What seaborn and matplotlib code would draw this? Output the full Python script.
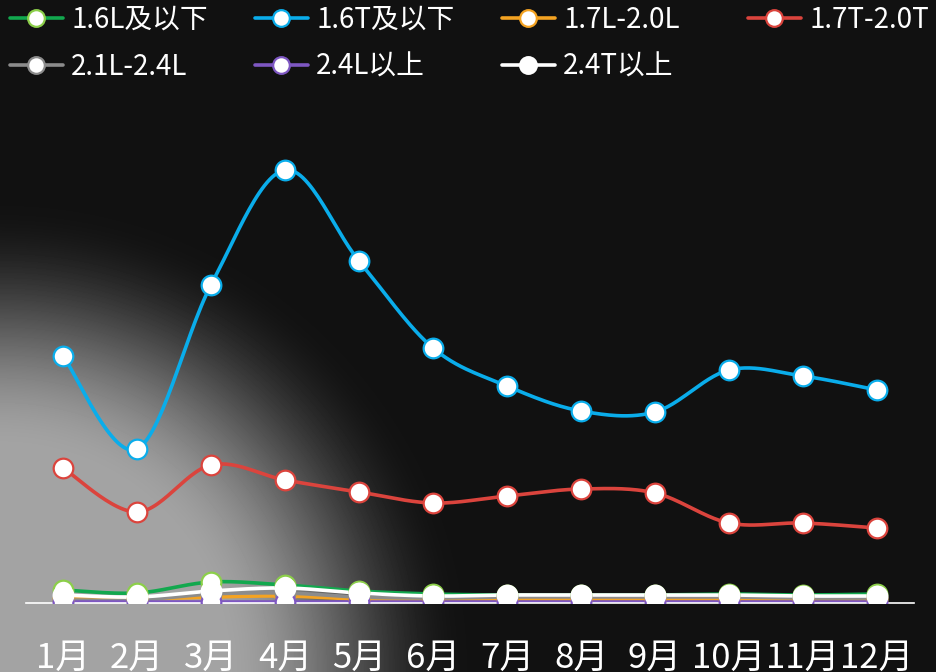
import numpy as np
import pandas as pd
import matplotlib
matplotlib.use('Agg')
import matplotlib.pyplot as plt
import seaborn as sns
from matplotlib.lines import Line2D

""" Data """

months = ['1月', '2月', '3月', '4月', '5月', '6月', '7月', '8月', '9月', '10月', '11月', '12月']
s_16l = [13, 10, 21, 18, 12, 9, 8, 8, 8, 9, 8, 9]
s_16t = [247, 154, 318, 433, 342, 255, 217, 192, 191, 233, 227, 213]
s_17l = [4, 4, 6, 7, 4, 4, 4, 4, 4, 4, 4, 4]
s_17t = [135, 91, 138, 123, 111, 100, 107, 114, 110, 80, 80, 75]
s_21l = [3, 3, 9, 10, 6, 5, 6, 6, 6, 6, 5, 5]
s_24l = [1, 1, 1, 1, 1, 1, 1, 1, 1, 1, 1, 1]
s_24t = [8, 6, 12, 15, 10, 7, 8, 8, 8, 8, 7, 7]

names = ['1.6L及以下', '1.6T及以下', '1.7L-2.0L', '1.7T-2.0T', '2.1L-2.4L', '2.4L以上', '2.4T以上']
values = [s_16l, s_16t, s_17l, s_17t, s_21l, s_24l, s_24t]
line_colors = ['#12A84E', '#0AADEB', '#F4A322', '#DB443D', '#8C8C8C', '#7E57C2', '#FFFFFF']
edge_colors = ['#8CCF4A', '#0AADEB', '#F4A322', '#DB443D', '#8C8C8C', '#7E57C2', '#FFFFFF']

W, H = 937, 672

sns.set_theme(style='white')
plt.rcParams['font.family'] = ['Noto Sans CJK SC', 'DejaVu Sans']


def smooth(y, n=30):
    # Excel-like smoothing (Catmull-Rom as cubic bezier segments)
    y = np.asarray(y, float)
    x = np.arange(len(y), dtype=float)
    pts = np.column_stack([x, y])
    ext = np.vstack([pts[0], pts, pts[-1]])
    out = []
    t = np.linspace(0, 1, n)[:, None]
    for i in range(len(pts) - 1):
        p0, p3 = ext[i + 1], ext[i + 2]
        c1 = p0 + (ext[i + 2] - ext[i]) / 6
        c2 = p3 - (ext[i + 3] - ext[i + 1]) / 6
        seg = (1 - t) ** 3 * p0 + 3 * (1 - t) ** 2 * t * c1 + 3 * (1 - t) * t ** 2 * c2 + t ** 3 * p3
        out.append(seg if i == 0 else seg[1:])
    out = np.vstack(out)
    return out[:, 0], out[:, 1]


fig = plt.figure(figsize=(W / 100, H / 100), dpi=100)

# background: dark with a grey glow from the bottom-left corner
bg = fig.add_axes([0, 0, 1, 1])
yy, xx = np.mgrid[0:H, 0:W]
r = np.sqrt(xx ** 2 + (H - yy) ** 2)
k = np.clip((470 - r) / 250, 0, 1)
k = k * k * (3 - 2 * k)
shade = 0.07 + 0.57 * k
bg.imshow(shade, cmap='gray', vmin=0, vmax=1, aspect='auto', interpolation='bilinear')
bg.axis('off')

ax = fig.add_axes([26 / W, (H - 603) / H, (914 - 26) / W, (603 - 100) / H])
ax.patch.set_alpha(0)

for name, vals, lc, ec in zip(names, values, line_colors, edge_colors):
    sx, sy = smooth(vals)
    df = pd.DataFrame({'x': sx, 'y': sy})
    sns.lineplot(data=df, x='x', y='y', ax=ax, color=lc, linewidth=2.6, sort=False)
    pts = pd.DataFrame({'x': np.arange(len(vals)), 'y': vals})
    sns.scatterplot(data=pts, x='x', y='y', ax=ax, color='white', edgecolor=ec,
                    s=200, linewidth=1.6, zorder=3)

ax.set_xlim(-0.5, 11.5)
ax.set_ylim(0, 503)
ax.set_xticks(range(12))
ax.set_xticklabels(months, color='white', fontsize=25)
ax.tick_params(axis='x', length=0, pad=27)
ax.set_yticks([])
ax.set_xlabel('')
ax.set_ylabel('')
for side in ['top', 'left', 'right']:
    ax.spines[side].set_visible(False)
ax.spines['bottom'].set_color('white')
ax.spines['bottom'].set_linewidth(1.2)

# legend, one entry placed per slot as in the original
slots = [(10, 20), (255, 20), (502, 20), (748, 20), (10, 67), (255, 67), (502, 67)]
for name, lc, ec, (px, py) in zip(names, line_colors, edge_colors, slots):
    h = Line2D([], [], color=lc, linewidth=2.6, marker='o', markersize=12,
               markerfacecolor='white', markeredgecolor=ec, markeredgewidth=1.6)
    leg = fig.legend(handles=[h], labels=[name], loc='center left',
                     bbox_to_anchor=(px / W, 1 - py / H), frameon=False,
                     fontsize=20, handlelength=1.9, handletextpad=0.3,
                     borderpad=0, borderaxespad=0, labelcolor='white')

fig.savefig('out.png', dpi=100)
